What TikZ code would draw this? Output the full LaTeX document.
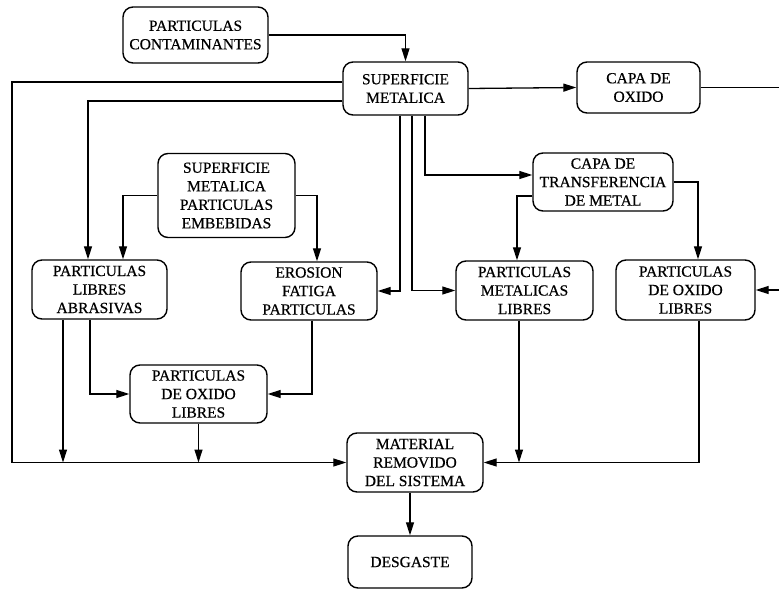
\documentclass[tikz,border=0pt]{standalone}
\usepackage{fontspec}
\setmainfont{Liberation Serif}
\newfontfamily\boxfont[FakeBold=0.6]{Liberation Serif}
\usetikzlibrary{arrows.meta}
\begin{document}
\begin{tikzpicture}[x=1pt,y=-1pt,
  box/.style={draw, line width=1.4pt, rounded corners=10pt, align=center,
    inner sep=0pt, font=\boxfont\fontsize{15.5}{18.5}\selectfont},
  arr/.style={line width=1.3pt, -{Triangle[length=13pt,width=8pt]}}]
\useasboundingbox (0,0) rectangle (779,589);

\node[box, minimum width=145pt, minimum height=56pt] (pc) at (195.5,35) {PARTICULAS\\CONTAMINANTES};
\node[box, minimum width=125pt, minimum height=53pt] (sm) at (405.5,88.5) {SUPERFICIE\\METALICA};
\node[box, minimum width=123pt, minimum height=51pt] (co) at (638.5,87.5) {CAPA DE\\OXIDO};
\node[box, minimum width=137pt, minimum height=84pt] (smpe) at (226.5,195.5) {SUPERFICIE\\METALICA\\PARTICULAS\\EMBEBIDAS};
\node[box, minimum width=140pt, minimum height=58pt] (ct) at (603,182) {CAPA DE\\TRANSFERENCIA\\DE METAL};
\node[box, minimum width=135pt, minimum height=59pt] (pla) at (99.5,289.5) {PARTICULAS\\LIBRES\\ABRASIVAS};
\node[box, minimum width=136pt, minimum height=58pt] (efp) at (309,291) {EROSION\\FATIGA\\PARTICULAS};
\node[box, minimum width=137pt, minimum height=59pt] (pml) at (524.5,290.5) {PARTICULAS\\METALICAS\\LIBRES};
\node[box, minimum width=139pt, minimum height=60pt] (pol2) at (685.5,290) {PARTICULAS\\DE OXIDO\\LIBRES};
\node[box, minimum width=137pt, minimum height=58pt] (pol1) at (198.5,394) {PARTICULAS\\DE OXIDO\\LIBRES};
\node[box, minimum width=136pt, minimum height=59pt] (mr) at (415,462.5) {MATERIAL\\REMOVIDO\\DEL SISTEMA};
\node[box, minimum width=124pt, minimum height=52pt] (des) at (410,562) {DESGASTE};

\coordinate (lc) at (12,462.5);
\coordinate (rc) at (600,462.5);
\coordinate (re) at (781,87.5);

% contaminantes -> superficie
\draw[arr] (pc.east) -| (sm.north);
% superficie -> outer left loop -> material removido
\draw[arr] ([yshift=6.5pt]sm.west) -| (lc) -- (mr.west);
% superficie -> libres abrasivas
\draw[arr] ([yshift=-12.5pt]sm.west) -| ([xshift=-11.5pt]pla.north);
% embebidas -> libres abrasivas / erosion
\draw[arr] (smpe.west) -| ([xshift=23.5pt]pla.north);
\draw[arr] (smpe.east) -| ([xshift=8pt]efp.north);
% superficie down lines
\draw[arr] ([xshift=19.5pt]sm.south) |- ([yshift=7pt]ct.west);
\draw[arr] ([xshift=6.5pt]sm.south) |- (pml.west);
\draw[arr] ([xshift=-5.5pt]sm.south) |- (efp.east);
% superficie -> capa de oxido
\draw[arr] (sm.east) -- (co.west);
% capa de oxido -> particulas de oxido (right)
\draw[arr] (co.east) -- (re) |- (pol2.east);
% capa de transferencia
\draw[arr] ([yshift=-14pt]ct.west) -| ([xshift=-7.5pt]pml.north);
\draw[arr] (ct.east) -| ([xshift=12.5pt]pol2.north);
% libres abrasivas down
\draw[arr] ([xshift=-36.5pt]pla.south) -- ([xshift=-36.5pt]pla.south |- lc);
\draw[arr] ([xshift=-9.5pt]pla.south) |- (pol1.west);
\draw[arr] ([xshift=3pt]efp.south) |- (pol1.east);
\draw[arr] (pol1.south) -- (pol1.south |- lc);
% right side to material removido
\draw[arr] ([xshift=-5.5pt]pml.south) -- ([xshift=-5.5pt]pml.south |- rc);
\draw[arr] ([xshift=13.5pt]pol2.south) |- (mr.east);
% material removido -> desgaste
\draw[arr] (des.north |- mr.south) -- (des.north);
\end{tikzpicture}
\end{document}
